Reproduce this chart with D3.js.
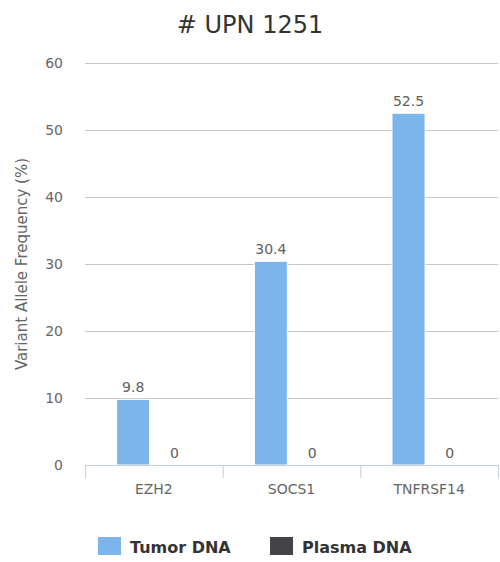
<!DOCTYPE html>
<html><head><meta charset="utf-8">
<script src="https://cdn.jsdelivr.net/npm/d3@7"></script>
<style>body{margin:0;background:#fff}svg{display:block;font-family:"DejaVu Sans",Verdana,sans-serif}</style>
</head><body><svg id="c" width="500" height="562"></svg>
<script>
const categories = ["EZH2", "SOCS1", "TNFRSF14"];
const seriesNames = ["Tumor DNA", "Plasma DNA"];
const tumorValues = [9.8, 30.4, 52.5];
const plasmaValues = [0, 0, 0];
const yTicks = [0, 10, 20, 30, 40, 50, 60];
const colors = ["#7cb5ec", "#434348"];

const svg = d3.select("#c");
const m = {l: 85, r: 498, t: 63, b: 465};
const x = d3.scaleBand().domain(categories).range([m.l, m.r]).paddingInner(0).paddingOuter(0);
const y = d3.scaleLinear().domain([0, 60]).range([m.b, m.t]);

svg.append("text").attr("x", 250).attr("y", 33).attr("text-anchor", "middle")
  .attr("font-size", 24).attr("fill", "#333").text("# UPN 1251");

// grid
svg.append("g").selectAll("line").data(yTicks.filter(d => d > 0)).join("line")
  .attr("x1", m.l).attr("x2", m.r).attr("y1", d => y(d) + 0.5).attr("y2", d => y(d) + 0.5)
  .attr("stroke", "#c6c6c6").attr("stroke-width", 1);
svg.append("g").selectAll("text").data(yTicks).join("text")
  .attr("x", 63).attr("y", d => y(d) + 5).attr("text-anchor", "end")
  .attr("font-size", 14).attr("fill", "#666").text(d => d);

svg.append("text").attr("transform", `translate(27,${(m.t + m.b) / 2}) rotate(-90)`)
  .attr("text-anchor", "middle").attr("font-size", 15).attr("fill", "#666")
  .text("Variant Allele Frequency (%)");

// bars
const bw = x.bandwidth();
const gp = 0.2 * bw, slot = (bw - 2 * gp) / 2, pp = 0.1 * slot;
const series = [tumorValues, plasmaValues];
series.forEach((vals, si) => {
  const g = svg.append("g");
  categories.forEach((c, i) => {
    const x0 = x(c) + gp + si * slot + pp;
    const w = slot - 2 * pp;
    if (vals[i] > 0) {
      g.append("rect").attr("x", x0).attr("y", y(vals[i])).attr("width", w)
        .attr("height", y(0) - y(vals[i])).attr("fill", colors[si])
        .attr("stroke", "#fff").attr("stroke-width", 1);
    }
    g.append("text").attr("x", x0 + w / 2).attr("y", y(vals[i]) - 7)
      .attr("text-anchor", "middle").attr("font-size", 14).attr("fill", "#606060").text(vals[i]);
  });
});

// x axis
svg.append("line").attr("x1", m.l).attr("x2", m.r).attr("y1", m.b + 0.5).attr("y2", m.b + 0.5)
  .attr("stroke", "#c0d0e0");
const edges = categories.map(c => x(c)).concat([m.r]);
svg.append("g").selectAll("line").data(edges).join("line")
  .attr("x1", d => d + 0.5).attr("x2", d => d + 0.5).attr("y1", m.b).attr("y2", m.b + 13)
  .attr("stroke", "#c0d0e0");
svg.append("g").selectAll("text").data(categories).join("text")
  .attr("x", d => x(d) + bw / 2).attr("y", 494).attr("text-anchor", "middle")
  .attr("font-size", 14).attr("fill", "#666").text(d => d);

// legend
const lx = [98, 270];
seriesNames.forEach((n, i) => {
  svg.append("rect").attr("x", lx[i]).attr("y", 537).attr("width", 23).attr("height", 18).attr("fill", colors[i]);
  svg.append("text").attr("x", lx[i] + 32).attr("y", 553).attr("font-size", 16).attr("font-weight", "bold")
    .attr("fill", "#333").text(n);
});
</script></body></html>
